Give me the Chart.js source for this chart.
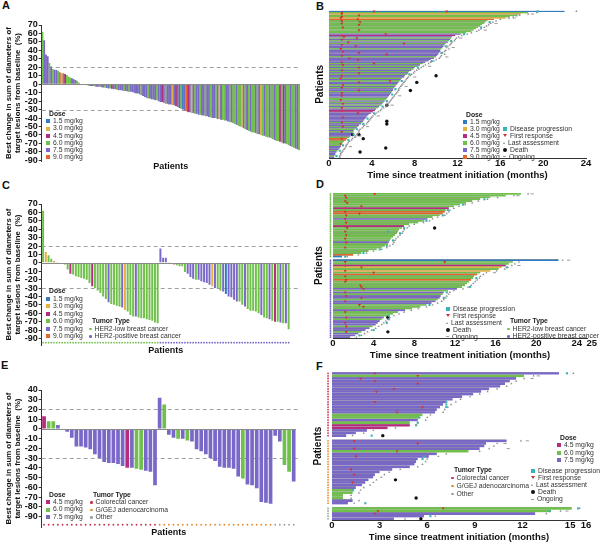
<!DOCTYPE html>
<html>
<head>
<meta charset="utf-8">
<script src="https://cdn.jsdelivr.net/npm/chart.js@4.4.0/dist/chart.umd.min.js"></script>
<style>
  body { margin: 0; background: #fff; }
  #fig { position: relative; width: 600px; height: 543px; overflow: hidden; font-family: 'Liberation Sans', Arial, sans-serif; }
  .tag { position: absolute; font-weight: bold; font-size: 11px; line-height: 11px; color: #111; }
  .lg { position: absolute; font-size: 6.8px; color: #333; white-space: nowrap; }
  .lg .t { font-weight: bold; color: #222; padding-left: 3px; }
  .mk { display: inline-block; vertical-align: middle; margin-right: 3px; }
</style>
</head>
<body>
<div id="fig">
  <div class="tag" style="left:2px;top:0px">A</div>
  <div class="tag" style="left:316px;top:1px">B</div>
  <div class="tag" style="left:2px;top:180px">C</div>
  <div class="tag" style="left:316px;top:179px">D</div>
  <div class="tag" style="left:1px;top:360px">E</div>
  <div class="tag" style="left:316px;top:361px">F</div>
</div>
<script>
// dose keys: b 1.5, y 3.0, m 4.5, g 6.0, p 7.5, o 9.0
const DOSE_NAME = { b: '1.5 mg/kg', y: '3.0 mg/kg', m: '4.5 mg/kg', g: '6.0 mg/kg', p: '7.5 mg/kg', o: '9.0 mg/kg' };
const DOSE_COLOR = { b: '#2f7cc2', y: '#e6b23e', m: '#b52b7e', g: '#70c04b', p: '#7a68c8', o: '#e2682c' };
const TUMOR_NAME = { low: 'HER2-low breast cancer', pos: 'HER2-positive breast cancer', crc: 'Colorectal cancer', gej: 'G/GEJ adenocarcinoma', oth: 'Other' };
const TUMOR_COLOR = { low: '#78c150', pos: '#7a68c8', crc: '#c8324f', gej: '#e38b2e', oth: '#93a593' };

const ticksWF = [70, 60, 50, 40, 30, 20, 10, 0, -10, -20, -30, -40, -50, -60, -70, -80, -90];
const ticksE = [40, 30, 20, 10, 0, -10, -20, -30, -40, -50, -60, -70, -80, -90];
const ticksB = [0, 4, 8, 12, 16, 20, 24];
const ticksD = [0, 4, 8, 12, 16, 20, 24, 25];
const ticksF = [0, 3, 6, 9, 12, 15, 16];
const refLevels = [20, -30];

// ---- A: all patients, best change (%) ----
const valsA = [62, 52, 35, 33, 25, 21, 18, 17, 17, 16, 14, 13, 13, 12, 11, 9, 8, 7, 6, 5, 4, 2,
  -0.5, -1, -1, -1, -1.5, -2, -2, -2, -2.5, -3, -3, -3, -3.5,
  -4, -4, -4.5, -5, -5, -5.5, -6, -6, -6.5, -7, -7, -7.5, -8, -8, -8.5, -9, -9, -9.5, -10,
  -11, -11, -12, -13, -14, -15, -16, -17, -17, -18, -18, -19, -19, -20, -21, -21, -22, -23, -23,
  -24, -24, -25, -25, -26, -27, -28, -29, -30, -31, -32, -33, -33, -34, -34, -35, -35, -36, -36,
  -37, -37, -38, -38, -39, -39, -40, -40, -40, -41, -41, -42, -42, -43, -43, -44, -45, -45, -46,
  -47, -48, -49, -50, -51, -52, -53, -54, -55, -56, -57, -57, -58, -59, -59, -60, -61, -61, -62,
  -63, -63, -64, -65, -66, -67, -67, -68, -69, -70, -70, -71, -72, -73, -74, -75, -76, -77, -78];
const doseA = ('gpppgpgppgoyomgggpppgg' + 'pgppygppgppgp' + 'pgppgmppgpppgppgppp' + 'pppgpppgppppgppmpgp' +
  'ppypmpbgbpompypgppg' + 'ppgppgppgpypggppgpg' + 'gpggypgpgpggpgpygpg' + 'gpggpggmgmpggpggppg').split('');

// ---- B: swimmer, all patients (months) ----
const lensB = [22.0, 18.6, 17.9, 17.4, 16.9, 16.5, 15.4, 14.8, 14.6, 14.5,
  14.3, 14.1, 13.9, 13.7, 13.5, 13.3, 12.8, 12.3, 11.8, 11.5,
  11.4, 11.3, 11.2, 11.1, 10.9, 10.8, 10.7, 10.6, 10.5, 10.4,
  10.4, 10.3, 10.2, 10.1, 10.0, 9.8, 9.5, 9.3, 9.0, 8.8,
  8.5, 8.3, 8.0, 7.9, 7.7, 7.5, 7.4, 7.3, 7.1, 7.0,
  6.8, 6.7, 6.6, 6.5, 6.4, 6.3, 6.2, 6.1, 6.0, 6.0,
  5.9, 5.8, 5.7, 5.6, 5.5, 5.4, 5.3, 5.2, 5.1, 5.0,
  4.9, 4.7, 4.6, 4.4, 4.3, 4.1, 3.9, 3.7, 3.6, 3.5,
  3.4, 3.3, 3.2, 3.1, 3.0, 2.8, 2.7, 2.6, 2.4, 2.3,
  2.3, 2.2, 2.1, 2.0, 1.9, 1.7, 1.6, 1.4, 1.3, 1.2,
  1.1, 1.1, 1.0, 0.9, 0.8, 0.7, 0.6, 0.6, 0.5, 0.5];
const doseB = ('b' + 'gyggyog' + 'ggggggggg' + 'pmpg' + 'pgpg' + 'pppgpppppgpppp' + 'gpgpgpg' + 'pgppgpgppgpgppg' +
  'pppp' + 'ggpg' + 'pgpg' + 'pmmppp' + 'ppppgpp' + 'gpgpg' + 'ppp' + 'goo' + 'ggggppp' + 'gpppgp').split('');
const respB = [[0, 4.2], [0, 11.0], [1, 1.2], [2, 1.2], [3, 2.8], [4, 1.2], [5, 1.1], [6, 2.7], [7, 1.2], [8, 2.9], [9, 1.2], [10, 2.8],
  [12, 1.3], [14, 2.8], [17, 5.3], [18, 1.2], [19, 1.4], [20, 2.6], [21, 1.2], [23, 1.8], [24, 7.0], [25, 1.2], [26, 2.5], [28, 1.1],
  [30, 1.3], [31, 2.8], [32, 5.4], [33, 1.2], [35, 1.9], [36, 2.7], [38, 1.2], [39, 4.2], [40, 1.3], [42, 2.8], [44, 1.2], [46, 2.8],
  [48, 1.2], [50, 1.1], [52, 5.7], [53, 2.8], [55, 1.3], [57, 1.2], [59, 2.8], [61, 1.2], [63, 1.2], [66, 1.1], [69, 1.3], [72, 1.2],
  [74, 1.2], [76, 2.7], [79, 1.3], [83, 1.2], [86, 1.3], [90, 1.2], [95, 1.2], [99, 1.1]];
const lastB = [[0, 23.1], [1, 19.4], [2, 18.6], [3, 17.8], [4, 17.2], [5, 16.8], [6, 16.0], [7, 15.6], [8, 15.3], [9, 15.1],
  [10, 14.9], [11, 14.7], [12, 14.5], [13, 14.2], [14, 14.0], [15, 13.8], [16, 13.3], [17, 12.9], [18, 12.4], [19, 12.1],
  [20, 11.9], [21, 11.8], [22, 11.7], [23, 11.5], [24, 11.4], [25, 11.3], [26, 11.1], [27, 11.0], [28, 11.2], [29, 10.9],
  [30, 10.8], [31, 10.6], [32, 10.8], [33, 10.5], [34, 10.4], [35, 10.3], [36, 10.0], [37, 9.8], [38, 9.5], [39, 9.3],
  [40, 9.0], [41, 8.8], [42, 8.6], [43, 8.4], [44, 8.2], [45, 8.0], [46, 7.9], [47, 7.7], [48, 7.6], [49, 7.4],
  [50, 7.3], [51, 7.2], [52, 7.1], [53, 7.0], [54, 6.9], [55, 6.8], [56, 6.7], [57, 6.6], [58, 6.5], [59, 6.5],
  [60, 6.4], [61, 6.3], [62, 6.2], [63, 6.1], [64, 6.0], [65, 5.9], [66, 5.8], [67, 5.7], [68, 5.6], [69, 5.5],
  [70, 5.4], [71, 5.3], [72, 5.1], [73, 4.9], [74, 4.8], [75, 4.6], [76, 4.4], [77, 4.3], [78, 4.1], [79, 4.0],
  [80, 3.9], [81, 3.8], [82, 3.7], [83, 3.6], [84, 3.5], [85, 3.3], [86, 3.2], [87, 3.1], [88, 2.9], [89, 2.8],
  [90, 2.8], [91, 2.7], [92, 2.6], [93, 2.5], [94, 2.4], [95, 2.2], [96, 2.1], [97, 1.9], [98, 1.8], [99, 1.7],
  [100, 1.6], [101, 1.6], [102, 1.5], [103, 1.4], [104, 1.3], [105, 1.2], [106, 1.1], [107, 1.1], [108, 1.0], [109, 1.0]];
const progB = [[0, 19.5], [3, 17.5], [8, 15.0], [12, 14.2], [17, 12.6], [22, 11.4], [26, 10.9], [31, 10.5], [37, 9.6], [42, 8.3],
  [47, 7.5], [52, 6.8], [58, 6.2], [62, 5.9], [67, 5.4], [71, 5.0], [76, 4.2], [80, 3.6], [84, 3.2], [88, 2.6], [92, 2.3],
  [96, 1.8], [100, 1.3], [104, 1.0], [108, 0.7]];
const deathB = [[48, 10.0], [53, 8.2], [59, 7.6], [70, 5.4], [82, 5.4], [84, 5.4], [92, 2.2], [92, 2.8], [95, 3.2], [102, 5.3], [105, 2.9]];
const ongoingB = [[2, 19.0], [5, 17.3], [9, 15.6], [14, 14.6], [20, 12.3], [27, 11.6], [34, 11.0], [41, 9.4], [49, 8.0], [56, 7.2],
  [63, 6.6], [70, 5.9], [78, 4.6], [86, 3.6], [93, 2.9], [101, 2.0]];

// ---- C: breast cancer, best change (%) ----
const valsC = [62, 13, 9, 5, 2, 1, -1, -1, -2, -8, -13, -14, -16, -17, -18, -19, -20, -24, -28, -30, -33, -36, -40, -43,
  -47, -49, -50, -51, -52, -53, -56, -58, -62, -64, -64, -65, -66, -66, -67, -68, -69, -71, -72,
  17, 6, 6, 0.5, -1, -2, -3, -4, -4, -11, -13, -17, -19, -20, -20, -22, -23, -24, -26, -28, -30, -30, -33, -34,
  -37, -40, -41, -44, -46, -46, -50, -52, -55, -57, -57, -58, -60, -62, -65, -66, -67, -69, -70, -70, -71, -72, -72, -79];
const doseC = ('gyggoggggg' + 'mgggggggmg' + 'ggggpggggp' + 'ygggpggggg' + 'ggg' +
  'pppggoggggpppgpppppypggpbppppggpgggggpggpgmgpgpg').split('');
const groupsC = [['low', 43], ['pos', 48]];

// ---- D: breast cancer swimmer (months) ----
const lensD = [18.5, 17.0, 15.5, 14.5, 13.7, 13.1, 12.5, 11.9, 11.4, 11.1, 11.0, 10.8, 10.5, 9.8, 9.3, 9.0, 8.4, 7.5,
  7.0, 6.8, 6.5, 6.4, 6.3, 6.1, 5.9, 5.7, 5.6, 5.5, 5.4, 5.1, 4.8, 4.3, 3.5, 2.8, 2.0, 0.9,
  null,
  22.2, 17.7, 17.3, 17.0, 16.6, 16.3, 15.5, 14.5, 14.2, 13.9, 13.8, 13.6, 13.4, 13.2, 13.0, 12.7, 12.2, 11.3, 10.9, 10.8,
  10.6, 10.5, 10.3, 10.1, 9.7, 9.2, 8.6, 7.8, 7.1, 6.4, 5.9, 5.4, 5.0, 4.8, 4.6, 4.4, 4.2, 3.9, 3.6, 3.2, 2.8, 2.5, 2.2, 1.7];
const doseD = ('ggggggggmgooggpgggmggggggggpggggggob' + ' ' +
  'bggmygygog' + 'goggggpgpg' + 'ppgppgggpg' + 'ggpgpppgpp' + 'gppp').split('');
const groupsD = [['low', 36], [null, 1], ['pos', 44]];
const respD = [[0, 4.1], [1, 1.2], [2, 1.3], [4, 1.2], [5, 1.4], [7, 2.8], [8, 1.2], [10, 1.2], [11, 2.6], [12, 1.3], [14, 1.2],
  [16, 1.3], [18, 1.2], [19, 1.4], [21, 1.2], [23, 1.3], [25, 1.2], [27, 1.3], [30, 1.2], [38, 1.2], [38, 11.0], [40, 1.2],
  [41, 2.8], [43, 1.2], [44, 4.0], [46, 1.2], [48, 1.3], [49, 1.2], [51, 2.7], [52, 2.8], [53, 3.0], [55, 1.2], [57, 1.3],
  [58, 2.8], [60, 1.2], [62, 2.6], [63, 3.0], [66, 1.2], [69, 1.3], [72, 1.2], [74, 1.3], [77, 1.3]];
const lastD = [[0, 19.2], [1, 17.8], [2, 16.2], [3, 15.2], [4, 14.3], [5, 13.7], [6, 13.0], [7, 12.4], [8, 11.9], [9, 11.5],
  [10, 11.4], [11, 11.2], [12, 11.0], [13, 10.3], [14, 9.8], [15, 9.5], [16, 8.9], [17, 8.0], [18, 7.5], [19, 7.3], [20, 7.0],
  [21, 6.9], [22, 6.8], [23, 6.6], [24, 6.4], [25, 6.2], [26, 6.1], [27, 6.0], [28, 5.9], [29, 5.6], [30, 5.3], [31, 4.8],
  [32, 4.0], [33, 3.3], [34, 2.5], [35, 1.4],
  [37, 22.6], [38, 18.3], [39, 17.9], [40, 17.6], [41, 17.2], [42, 16.9], [43, 16.1], [44, 15.1], [45, 14.8], [46, 14.5],
  [47, 14.4], [48, 14.2], [49, 14.0], [50, 13.8], [51, 13.6], [52, 13.3], [53, 12.8], [54, 11.9], [55, 11.5], [56, 11.4],
  [57, 11.2], [58, 11.1], [59, 10.9], [60, 10.7], [61, 10.3], [62, 9.8], [63, 9.2], [64, 8.4], [65, 7.7], [66, 7.0],
  [67, 6.5], [68, 6.0], [69, 5.6], [70, 5.4], [71, 5.2], [72, 5.0], [73, 4.8], [74, 4.5], [75, 4.2], [76, 3.8], [77, 3.4],
  [78, 3.1], [79, 2.8], [80, 2.3]];
const progD = [[3, 14.9], [6, 12.8], [9, 11.3], [12, 10.8], [15, 9.2], [19, 7.0], [21, 5.4], [22, 6.6], [26, 5.9], [29, 5.3],
  [31, 4.6], [33, 3.0], [35, 1.2], [41, 17.1], [47, 14.1], [52, 13.5], [55, 11.2], [58, 10.9], [62, 9.5], [68, 5.5],
  [70, 5.5], [72, 5.3], [76, 4.0], [79, 2.6]];
const deathD = [[19, 10.0], [69, 5.4], [77, 5.4]];
const ongoingD = [[0, 19.6], [1, 18.2], [37, 23.2], [40, 18.3], [44, 15.9]];

// ---- E: GI / other tumours, best change (%) ----
const valsE = [13, 8, 8, 4, -1, -3, -9, -18, -18, -19, -21, -26, -30, -34, -35, -35, -36, -38, -40, -40, -41, -42, -43, -44, -58,
  32, 25, -6, -9, -10, -10, -12, -13, -21, -23, -26, -30, -33, -39, -40, -40, -41, -49, -51, -57, -58, -61, -75, -76, -77,
  -7, -13, -37, -44, -54];
const doseE = ('mggpppppppppppppppmpggppp' + 'pgppgpgpppppppppppgpppppp' + 'ppggp').split('');
const groupsE = [['crc', 25], ['gej', 25], ['oth', 5]];

// ---- F: GI / other swimmer (months) ----
const lensF = [14.3, 12.1, 11.6, 11.2, 10.9, 10.6, 9.9, 9.4, 8.9, 8.2, 7.6, 7.2, 7.0, 6.8, 6.6, 6.5, 5.7, 5.5, 5.4, 4.9,
  4.9, 3.5, 2.2, 1.5, 0.9,
  null,
  11.0, 9.7, 9.6, 9.3, 8.6, 6.6, 6.1, 5.4, 5.3, 5.2, 4.9, 3.8, 3.0, 2.7, 2.6, 2.3, 2.1, 1.9, 1.5, 1.4, 1.3, 0.7, 0.7, 1.3, 1.0,
  null,
  15.1, 13.8, 12.8, 5.8, 3.9];
const doseF = ('pgppppppppppppppggpgmmppp' + ' ' + 'ppppgppppppppppppppggggpp' + ' ' + 'ggppp').split('');
const groupsF = [['crc', 25], [null, 1], ['gej', 25], [null, 1], ['oth', 5]];
const respF = [[0, 2.7], [1, 5.4], [2, 1.8], [3, 2.7], [4, 5.4], [6, 3.9], [7, 2.8], [11, 2.7], [13, 5.7], [15, 4.1],
  [26, 1.4], [27, 5.4], [29, 1.4], [30, 4.1], [32, 1.5], [37, 1.2], [39, 1.4], [42, 1.3], [52, 7.0], [53, 2.9], [54, 2.7]];
const lastF = [[0, 15.2], [1, 12.7], [2, 12.1], [3, 11.6], [4, 11.3], [5, 11.0], [6, 10.4], [7, 9.8], [8, 9.3], [9, 8.7],
  [10, 8.1], [11, 7.8], [12, 7.5], [13, 7.3], [14, 7.1], [15, 7.0], [16, 6.2], [17, 6.0], [18, 5.9], [19, 5.4], [20, 5.3],
  [21, 4.0], [22, 2.6], [23, 2.0], [24, 1.3],
  [26, 11.9], [27, 10.4], [28, 10.2], [29, 9.9], [30, 9.3], [31, 7.2], [32, 6.7], [33, 6.0], [34, 5.9], [35, 5.7], [36, 5.4],
  [37, 4.3], [38, 3.6], [39, 3.3], [40, 3.1], [41, 2.8], [42, 2.6], [43, 2.4], [44, 2.0], [45, 1.8], [46, 1.7], [47, 1.2],
  [48, 1.2], [49, 1.7], [50, 1.4], [52, 15.6], [53, 14.4], [54, 13.5], [55, 6.5], [56, 4.6]];
const progF = [[0, 14.8], [11, 7.2], [12, 7.2], [13, 7.2], [17, 5.5], [19, 5.4], [20, 5.3], [24, 2.5], [32, 5.8], [33, 5.7],
  [45, 1.3], [50, 2.1], [52, 15.5], [53, 13.7], [55, 6.2]];
const deathF = [[24, 3.2], [41, 4.0], [48, 5.3], [56, 5.6]];
const ongoingF = [[1, 13.0], [2, 12.6], [26, 12.3], [27, 10.9], [29, 11.1], [53, 14.8]];

// ---------------------------------------------------------------
Chart.defaults.font.family = "'Liberation Sans', Arial, sans-serif";
Chart.defaults.color = '#111';
Chart.defaults.animation = false;
Chart.defaults.responsive = false;
Chart.defaults.events = [];
Chart.defaults.plugins.legend.display = false;
Chart.defaults.plugins.tooltip.enabled = false;

const fig = document.getElementById('fig');
const noGrid = { display: false, drawTicks: false };
const SEP = 'rgba(125,125,125,0.75)';

function canvas(x, y, w, h) {
  const c = document.createElement('canvas');
  c.width = w; c.height = h;
  c.style.cssText = `position:absolute;left:${x}px;top:${y}px;width:${w}px;height:${h}px`;
  fig.appendChild(c);
  return c;
}

// dashed +20 / -30 guides behind the bars, grey zero line on top
const refLines = {
  id: 'refLines',
  beforeDatasetsDraw(chart, args, opts) {
    const { ctx, chartArea } = chart;
    const y = chart.scales.y;
    ctx.save();
    ctx.strokeStyle = '#a0a0a0';
    ctx.lineWidth = 1;
    ctx.setLineDash([4, 3]);
    opts.levels.forEach(v => {
      const py = Math.round(y.getPixelForValue(v)) + 0.5;
      ctx.beginPath(); ctx.moveTo(chartArea.left, py); ctx.lineTo(chart.width - 1, py); ctx.stroke();
    });
    ctx.restore();
  },
  afterDatasetsDraw(chart) {
    const { ctx, chartArea } = chart;
    const py = Math.round(chart.scales.y.getPixelForValue(0)) + 0.5;
    ctx.save();
    ctx.strokeStyle = '#8a8a8a';
    ctx.lineWidth = 1;
    ctx.beginPath(); ctx.moveTo(chartArea.left, py); ctx.lineTo(chartArea.right, py); ctx.stroke();
    ctx.restore();
  }
};

function groupDots(groups, place) {
  const sets = [];
  let i = 0;
  groups.forEach(([key, count]) => {
    if (key) {
      const pts = [];
      for (let k = 0; k < count; k++) pts.push(place(i + k));
      sets.push({ type: 'scatter', data: pts, order: 0, clip: false, pointRadius: 0.9, pointBorderWidth: 0,
        pointBackgroundColor: TUMOR_COLOR[key] });
    }
    i += count;
  });
  return sets;
}

function waterfall(box, vals, doses, cfg) {
  const datasets = [{
    type: 'bar', data: vals, order: 2,
    backgroundColor: doses.map(k => DOSE_COLOR[k]),
    barPercentage: cfg.barPct, categoryPercentage: 1,
    borderSkipped: false, borderColor: SEP, borderWidth: cfg.sep ? { left: cfg.sep, right: 0, top: 0, bottom: 0 } : 0
  }];
  if (cfg.groups) datasets.push(...groupDots(cfg.groups, i => ({ x: i, y: cfg.dotY })));
  return new Chart(canvas(...box), {
    type: 'bar',
    data: { labels: vals.map((_, i) => i), datasets },
    options: {
      layout: { padding: cfg.pad },
      scales: {
        x: {
          grid: noGrid, border: { display: false }, ticks: { display: false },
          title: { display: true, text: 'Patients', font: { size: 9, weight: 'bold' }, padding: 0 }
        },
        y: {
          min: cfg.min, max: cfg.max,
          afterBuildTicks: s => { s.ticks = cfg.ticks.map(v => ({ value: v })); },
          grid: { drawOnChartArea: false, tickLength: 3, color: '#333' },
          border: { color: '#333' },
          ticks: { font: { size: 9, weight: 'bold' }, padding: 1, color: '#111', autoSkip: false },
          title: {
            display: true, text: ['Best change in sum of diameters of', 'target lesions from baseline  (%)'],
            font: { size: 7.8, weight: 'bold', lineHeight: 1.2 }, padding: 1
          }
        }
      },
      plugins: { refLines: { levels: refLevels } }
    },
    plugins: [refLines]
  });
}

function marker(pts, style, color, r, rot) {
  return {
    type: 'scatter', order: 1, data: pts.map(([row, m]) => ({ x: m, y: row })),
    pointStyle: style, pointRadius: r, pointRotation: rot || 0,
    pointBackgroundColor: color, pointBorderColor: color, pointBorderWidth: style === 'line' ? 1 : 0
  };
}

function swimmer(box, lens, doses, m, cfg) {
  const datasets = [{
    type: 'bar', data: lens, order: 3,
    backgroundColor: doses.map(k => DOSE_COLOR[k] || 'rgba(0,0,0,0)'),
    barPercentage: 1, categoryPercentage: 1,
    borderSkipped: false, borderColor: SEP, borderWidth: { top: cfg.sep, bottom: 0, left: 0, right: 0 }
  },
  marker(m.last, 'triangle', '#8c8c8c', 1.3),
  marker(m.ongoing, 'line', '#9a9a9a', 1.6),
  marker(m.prog, 'rect', '#38b3b6', 1.5),
  marker(m.resp, 'triangle', '#d2312e', 1.7, 180),
  marker(m.death, 'circle', '#111', 1.7)];
  if (cfg.groups) datasets.push(...groupDots(cfg.groups, i => ({ x: -0.25, y: i })));
  return new Chart(canvas(...box), {
    type: 'bar',
    data: { labels: lens.map((_, i) => i), datasets },
    options: {
      indexAxis: 'y',
      layout: { padding: cfg.pad },
      scales: {
        x: {
          type: 'linear', min: 0, max: cfg.max,
          afterBuildTicks: s => { s.ticks = cfg.ticks.map(v => ({ value: v })); },
          grid: noGrid, border: { color: '#333' },
          ticks: {
            font: { size: 9.5, weight: 'bold', lineHeight: 1 }, padding: 1, color: '#111', autoSkip: false, maxRotation: 0,
            callback: v => (v === 25 ? '\u2002\u200225' : v)
          },
          title: { display: true, text: 'Time since treatment initiation (months)', font: { size: 9.5, weight: 'bold' }, padding: 0 }
        },
        y: {
          type: 'category', offset: true,
          grid: noGrid, border: { display: false }, ticks: { display: false },
          title: { display: true, text: 'Patients', font: { size: 10, weight: 'bold' }, padding: cfg.titlePad }
        }
      }
    }
  });
}

// ---- legends (HTML text) ----
function mark(kind, color) {
  switch (kind) {
    case 'sq': return `<i class="mk" style="width:4px;height:4px;background:${color}"></i>`;
    case 'dot': return `<i class="mk" style="width:2.5px;height:2.5px;border-radius:50%;background:${color}"></i>`;
    case 'big': return `<i class="mk" style="width:4px;height:4px;border-radius:50%;background:${color}"></i>`;
    case 'down': return `<i class="mk" style="width:0;height:0;border-left:2px solid transparent;border-right:2px solid transparent;border-top:3.5px solid ${color}"></i>`;
    case 'up': return `<i class="mk" style="width:0;height:0;border-left:1.5px solid transparent;border-right:1.5px solid transparent;border-bottom:2.5px solid ${color}"></i>`;
    case 'dash': return `<i class="mk" style="width:3px;height:1px;background:${color}"></i>`;
  }
  return '';
}
function legend(x, y, rowH, title, rows) {
  const d = document.createElement('div');
  d.className = 'lg';
  d.style.left = x + 'px'; d.style.top = y + 'px'; d.style.lineHeight = rowH + 'px';
  let html = title ? `<div class="t">${title}</div>` : '';
  rows.forEach(([kind, color, text]) => { html += `<div>${mark(kind, color)}${text}</div>`; });
  d.innerHTML = html;
  fig.appendChild(d);
}
const doseRows = keys => keys.map(k => ['sq', DOSE_COLOR[k], DOSE_NAME[k]]);
const tumorRows = keys => keys.map(k => ['dot', TUMOR_COLOR[k], TUMOR_NAME[k]]);
const markRows = [['sq', '#38b3b6', 'Disease progression'], ['down', '#d2312e', 'First response'],
  ['up', '#8c8c8c', 'Last assessment'], ['big', '#111', 'Death'], ['dash', '#9a9a9a', 'Ongoing']];

// ---- build panels ----
waterfall([0, 15, 300, 157], valsA, doseA, { barPct: 1, sep: 0.35, min: -91, max: 70, ticks: ticksWF,
  pad: { left: 3, right: 0, top: 10, bottom: 0 } });
swimmer([300, 0, 300, 181], lensB, doseB, { last: lastB, ongoing: ongoingB, prog: progB, resp: respB, death: deathB },
  { max: 24, ticks: ticksB, sep: 0.3, titlePad: 3, pad: { left: 11, right: 14, top: 10.7, bottom: 0 } });
waterfall([0, 194, 300, 162], valsC, doseC, { barPct: 0.72, min: -98, max: 70, ticks: ticksWF, groups: groupsC, dotY: -95,
  pad: { left: 3, right: 10, top: 10, bottom: 0 } });
swimmer([300, 183, 300, 178], lensD, doseD, { last: lastD, ongoing: ongoingD, prog: progD, resp: respD, death: deathD },
  { max: 25, ticks: ticksD, sep: 0.45, titlePad: 8, groups: groupsD, pad: { left: 5, right: 13, top: 10, bottom: 0 } });
waterfall([0, 380, 300, 158], valsE, doseE, { barPct: 0.8, min: -101, max: 40, ticks: ticksE, groups: groupsE, dotY: -98.5,
  pad: { left: 3, right: 0, top: 10, bottom: 0 } });
swimmer([300, 362, 300, 181], lensF, doseF, { last: lastF, ongoing: ongoingF, prog: progF, resp: respF, death: deathF },
  { max: 16, ticks: ticksF, sep: 0.5, titlePad: 8, groups: groupsF, pad: { left: 4, right: 14, top: 10, bottom: 0 } });

legend(46, 110, 7.2, 'Dose', doseRows(['b', 'y', 'm', 'g', 'p', 'o']));
legend(463, 110.5, 7, 'Dose', doseRows(['b', 'y', 'm', 'g', 'p', 'o']));
legend(503, 124.5, 7, null, markRows);
legend(46, 287, 7.5, 'Dose', doseRows(['b', 'y', 'm', 'g', 'p', 'o']));
legend(89, 317, 7.6, 'Tumor Type', tumorRows(['low', 'pos']));
legend(446, 304.5, 7, null, markRows);
legend(507, 317, 7.6, 'Tumor Type', tumorRows(['low', 'pos']));
legend(46, 491, 7.2, 'Dose', doseRows(['m', 'g', 'p']));
legend(90, 491, 7.4, 'Tumor Type', tumorRows(['crc', 'gej', 'oth']));
legend(557, 433.5, 7.5, 'Dose', doseRows(['m', 'g', 'p']));
legend(531, 466.5, 7.1, null, markRows);
legend(451, 466, 7.9, 'Tumor Type', tumorRows(['crc', 'gej', 'oth']));
</script>
</body>
</html>
